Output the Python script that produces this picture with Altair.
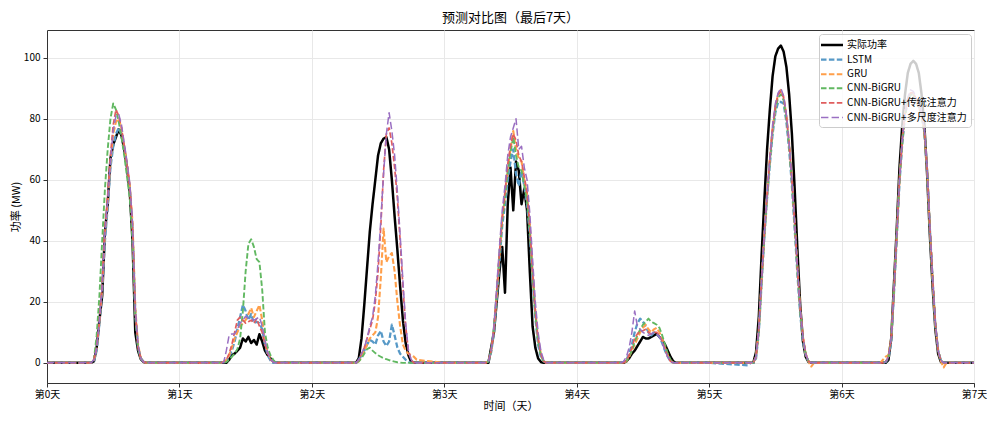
import altair as alt
import pandas as pd

# ---------------- data ----------------
series_names = ["实际功率", "LSTM", "GRU", "CNN-BiGRU",
                "CNN-BiGRU+传统注意力", "CNN-BiGRU+多尺度注意力"]
# tab10 colours as they appear with the reference's transparency over white
series_colors = ["#000000", "#5799c7", "#ff9f4a", "#61b861", "#e05d5e", "#9a6fc2"]

day_ticks = [0, 1, 2, 3, 4, 5, 6, 7]
day_labels = ["第0天", "第1天", "第2天", "第3天", "第4天", "第5天", "第6天", "第7天"]
y_ticks = [0, 20, 40, 60, 80, 100]

# half-hour sample times within each day (hours), 07:00 ... 19:00; night values are 0
hours = [7.0, 7.5, 8.0, 8.5, 9.0, 9.5, 10.0, 10.5, 11.0, 11.5, 12.0, 12.5, 13.0,
         13.5, 14.0, 14.5, 15.0, 15.5, 16.0, 16.5, 17.0, 17.5, 18.0, 18.5, 19.0]

actual = [
    [0, 0, 0, 0.5, 5, 14, 22, 43, 52, 67, 71.5, 74, 76.5, 74.5, 70, 64, 56, 40, 10, 4, 1.2, 0.3, 0, 0, 0],
    [0, 0, 0, 0, 1, 2.5, 3, 4, 5, 8, 7, 8.5, 6.5, 7.5, 6, 9.4, 7, 4, 2.5, 1.5, 0.5, 0, 0, 0, 0],
    [0, 0, 0, 1.5, 8, 19, 31, 43, 52, 60, 68, 72, 73.5, 74, 70, 60, 48, 37, 25, 14, 6.5, 2.5, 0.3, 0, 0],
    [0, 0, 0, 5, 10, 20, 30, 38, 23, 52, 64, 50, 66, 63, 52, 57, 50, 30, 12, 5, 1.5, 0.3, 0, 0, 0],
    [0, 0, 0, 0, 0.5, 1.5, 3, 4, 5.5, 7, 8.5, 8, 8, 8.5, 9, 9.5, 8.5, 7.5, 6, 4, 2, 0.5, 0, 0, 0],
    [0, 0, 0, 3.5, 15, 35, 53, 70, 83, 94, 100.5, 103, 104, 102, 97, 88, 75, 57, 37, 19, 7, 2, 0.3, 0, 0],
    [0, 0, 0, 1, 8, 26, 44, 64, 78, 88, 95, 98, 99, 98, 95, 88, 78, 62, 42, 25, 11, 3, 0.3, 0, 0],
]
lstm = [
    [0, 0, 0, 0.5, 4, 13, 24, 40, 51, 64, 71, 75, 77, 75, 70, 64, 57, 44, 16, 5, 1.5, 0.3, 0, 0, 0],
    [0, 0, 0, 0.5, 2, 4, 7, 11, 15, 19, 17, 14, 16, 13, 13.5, 13, 11, 6, 2.5, 0.8, 0, 0, 0, 0, 0],
    [0, 0, 0, 1, 2.5, 4, 6, 7.5, 7, 6, 9, 10.5, 7, 5.5, 7, 12.5, 9, 5, 3, 2, 1, 0.3, 0, 0, 0],
    [0, 0, 0.5, 3.5, 10, 21, 33, 45, 52, 60, 66, 70, 62, 58, 63, 58, 52, 42, 28, 15, 6, 2, 0.5, 0, 0],
    [0, 0, 0, 0.3, 1, 3, 6, 10, 13, 14.5, 13.5, 12, 10, 9, 10, 9.5, 8.5, 6.5, 4, 2, 0.5, 0, 0, 0, 0],
    [-0.8, 0, 0, 1.5, 10, 26, 41, 54, 65, 75, 82, 85.5, 85.5, 85, 79, 70, 58, 44, 29, 16, 7, 2.5, 0.5, 0, 0],
    [0, 0, 0.3, 1.5, 7, 23, 41, 59, 72, 81, 86, 88, 88, 86, 84, 81, 76, 63, 44, 27, 12, 4, 0.8, 0, 0],
]
gru = [
    [0, 0, 0, 1, 5, 14, 25, 43, 53, 66, 75, 79, 80, 77, 71, 65, 58, 46, 18, 6, 1.5, 0.3, 0, 0, 0],
    [0, 0, 0.3, 1, 2.5, 5, 8, 10, 12, 13, 14, 16, 18, 15, 17, 19, 14, 7, 3.5, 1.5, 0.5, 0, 0, 0, 0],
    [0, 0, 0, 0.5, 2, 4, 6, 8, 9, 10, 15, 28, 44, 33, 35, 36, 30, 20, 12, 6, 4, 3, 2.5, 2, 1],
    [0, 0, 0.5, 4, 11, 22, 35, 47, 55, 64, 70, 76, 70, 67, 66, 60, 55, 45, 30, 17, 8, 3, 0.5, 0, 0],
    [0, 0, 0, 0, 0.5, 2, 4, 6, 8, 10, 11.5, 12.5, 11, 10, 11, 11.5, 10, 8, 5, 2.5, 0.8, 0, 0, 0, 0],
    [0, 0, 0, 2, 11, 27, 42, 55, 67, 77, 84, 88, 89.5, 87, 81, 72, 60, 46, 31, 18, 8.5, 3, 0.5, -1.2, 0],
    [0, 1, 2, 2.5, 8, 24, 42, 60, 73, 82, 86, 88, 88, 86, 84, 81, 76, 63, 44, 27, 12, 4, 0.5, -1.5, 0],
]
cnn_bigru = [
    [0, 0, 0, 1, 9, 22, 40, 57, 70, 80, 85, 83, 79, 74, 68, 61, 54, 40, 16, 5, 1.5, 0.3, 0, 0, 0],
    [0, 0, 0, 0.3, 1, 2, 3, 4.5, 8, 17, 30, 39, 40.5, 38, 34, 33, 24, 10, 5, 2.5, 1, 0, 0, 0, 0],
    [0, 0, 0, 0.5, 1.5, 3, 4.5, 5, 4, 3.2, 2.5, 2, 1.5, 1.2, 0.9, 0.6, 0.4, 0.2, 0.1, 0, 0, 0, 0, 0, 0],
    [0, 0, 0.5, 4, 12, 23, 36, 47, 54, 63, 69, 74, 68, 64, 63, 58, 53, 43, 29, 16, 7, 2.5, 0.5, 0, 0],
    [0, 0, 0, 0, 0.5, 2, 4, 7, 9, 11, 12.5, 13.5, 14.5, 13.5, 13, 12.5, 11.5, 9, 6, 3, 1, 0, 0, 0, 0],
    [0, 0, 0, 2, 10, 26, 41, 54, 66, 76, 83, 87, 88, 86, 80, 71, 59, 45, 30, 17, 8, 3, 0.5, 0, 0],
    [0, 0, 0.3, 2, 8, 24, 42, 60, 72, 81, 86, 88, 88, 86, 84, 81, 76, 63, 44, 27, 12, 4, 0.8, 0, 0],
]
cnn_bigru_att = [
    [0, 0, 0, 1, 5, 14, 26, 44, 55, 68, 78, 83, 81, 77, 71, 65, 58, 45, 17, 5, 1.5, 0.3, 0, 0, 0],
    [0, 0, 0.3, 1, 3, 6, 10, 14, 15, 14, 13, 13.5, 14, 13, 14.5, 12, 10, 6, 3, 1, 0.3, 0, 0, 0, 0],
    [0, 0, 0, 1, 3, 5, 8, 11, 14, 20, 30, 45, 63, 75, 77, 72, 64, 54, 40, 25, 12, 4, 1, 0, 0],
    [0, 0, 0.5, 4, 11, 23, 36, 48, 56, 65, 71, 75, 73, 68, 66, 61, 56, 45, 30, 17, 8, 3, 0.5, 0, 0],
    [0, 0, 0, 0, 0.8, 2.5, 5, 8, 9.5, 10.5, 10.5, 11, 10, 9.5, 10, 10, 9, 7, 4.5, 2, 0.5, 0, 0, 0, 0],
    [0, 0, 0, 2, 11, 27, 42, 55, 67, 77, 84, 88, 89, 87, 81, 72, 60, 46, 31, 18, 8.5, 3, 0.5, 0, 0],
    [0, 0, 0.3, 2, 8, 24, 42, 60, 73, 82, 86.5, 88.5, 88.5, 86.5, 84.5, 81.5, 76.5, 63.5, 44.5, 28, 13, 4, 0.8, 0, 0],
]
cnn_bigru_msatt = [
    [0, 0, 0, 1, 5, 14, 25, 43, 53, 66, 76, 81, 81.5, 78, 72, 66, 59, 46, 18, 6, 1.5, 0.3, 0, 0, 0],
    [0, 0, 0, 4, 9, 9.5, 9.5, 11, 13, 14, 15.3, 14.5, 14.5, 14, 14.5, 15, 12, 7.5, 3.5, 1.2, 0.3, 0, 0, 0, 0],
    [0, 0, 0, 1, 3, 5, 8, 12, 15, 22, 33, 47, 62, 75, 82, 76, 68, 56, 42, 27, 13, 4, 1, 0, 0],
    [0, 0, 0.5, 4, 12, 25, 38, 50, 58, 68, 74, 77, 80, 70, 71, 64, 60, 49, 34, 20, 10, 4, 1, 0, 0],
    [0, 0, 0, 0.5, 2, 5, 10, 17, 12, 11, 10, 9.5, 9, 9.5, 10, 9.5, 8.5, 6.5, 4, 2, 0.5, 0, 0, 0, 0],
    [0, 0, 0, 2, 11, 27, 42, 55, 67, 78, 85, 88.5, 90, 87.5, 81.5, 72, 60, 46, 31, 18, 8.5, 3, 0.5, 0, 0],
    [0, 0, 0.3, 2, 8, 24, 42, 60, 73, 82, 87, 89.5, 89, 87, 85, 82, 77, 64, 45, 28, 13, 4, 0.8, 0, 0],
]

series_values = [actual, lstm, gru, cnn_bigru, cnn_bigru_att, cnn_bigru_msatt]

# ---------------- styles ----------------
dash_patterns = [[1, 0], [5.5, 2.4], [5.5, 2.4], [5.5, 2.4], [5.5, 2.4], [7.4, 3.2]]
line_widths = [2.5, 1.5, 1.5, 1.5, 1.5, 2.0]

rows = []
for name, days in zip(series_names, series_values):
    for d, vals in enumerate(days):
        rows.append({"t": float(d), "power": 0.0, "series": name})
        for h, v in zip(hours, vals):
            rows.append({"t": d + h / 24.0, "power": float(v), "series": name})
    rows.append({"t": 7.0, "power": 0.0, "series": name})
df = pd.DataFrame(rows)

FONT = "Noto Sans CJK SC"
label_expr = "[" + ",".join("'" + s + "'" for s in day_labels) + "][datum.value]"

base = alt.Chart(df).mark_line(strokeJoin="round", clip=True).encode(
    x=alt.X("t:Q",
            scale=alt.Scale(domain=[0, 7], nice=False, zero=False),
            axis=alt.Axis(title="时间（天）", values=day_ticks, labelExpr=label_expr,
                          labelFlush=False)),
    y=alt.Y("power:Q",
            scale=alt.Scale(domain=[-6.6, 109.1], nice=False, zero=False),
            axis=alt.Axis(title="功率 (MW)", values=y_ticks, labelFlush=False)),
    color=alt.Color("series:N",
                    scale=alt.Scale(domain=series_names, range=series_colors),
                    legend=alt.Legend(title=None, orient="none", legendX=772, legendY=4)),
    strokeDash=alt.StrokeDash("series:N",
                              scale=alt.Scale(domain=series_names, range=dash_patterns)),
    strokeWidth=alt.StrokeWidth("series:N",
                                scale=alt.Scale(domain=series_names, range=line_widths)),
)

layers = [base.transform_filter(alt.datum.series == s) for s in series_names]

chart = alt.layer(*layers).properties(
    width=927,
    height=353,
    title=alt.TitleParams("预测对比图（最后7天）", fontSize=13, fontWeight="normal",
                          font=FONT, color="#000000", anchor="middle", offset=5),
    autosize=alt.AutoSizeParams(type="none"),
    padding={"left": 39, "top": 22, "right": 13, "bottom": 30},
).configure(
    font=FONT,
).configure_view(
    stroke="#333333", strokeWidth=1,
).configure_axis(
    domainColor="#333333", domainWidth=1,
    tickColor="#333333", tickSize=4, tickWidth=1,
    labelFont=FONT, labelFontSize=10, labelColor="#000000", labelPadding=3,
    titleFont=FONT, titleFontSize=11, titleFontWeight="normal", titleColor="#000000",
    gridColor="#e8e8e8", gridWidth=1,
).configure_axisX(
    labelPadding=2, titlePadding=1,
).configure_axisY(
    titlePadding=2,
).configure_legend(
    symbolType="M-2,0L2,0", symbolSize=121,
    labelFont=FONT, labelFontSize=10, labelColor="#000000", labelOffset=8,
    fillColor="rgba(255,255,255,0.8)", strokeColor="#cccccc",
    padding=4, cornerRadius=3, rowPadding=2.6, symbolOffset=2,
)

chart.save("out.html", embed_options={"renderer": "svg", "actions": False})
